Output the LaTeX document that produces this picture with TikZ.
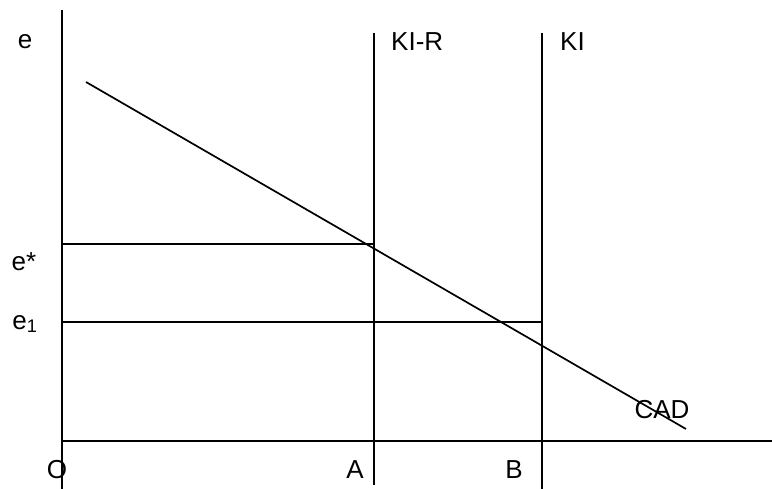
\documentclass[tikz,border=0pt]{standalone}
\usepackage{fontspec}
\setmainfont{Liberation Sans}
\begin{document}
\begin{tikzpicture}[x=1pt,y=-1pt,
  ln/.style={line width=1.7pt,black},
  lbl/.style={font=\fontsize{26}{30}\selectfont,inner sep=0pt}]
\useasboundingbox (0,0) rectangle (772,489);
% axes
\coordinate (ytop) at (62,10);
\coordinate (ybot) at (62,489);
\coordinate (xl) at (62,441);
\coordinate (xr) at (772,441);
\draw[ln] (ytop) -- (ybot);
\draw[ln] (xl) -- (xr);
% vertical lines
\coordinate (krt) at (374,33);
\coordinate (krb) at (374,485);
\coordinate (kit) at (542,33);
\coordinate (kib) at (542,489);
\draw[ln] (krt) -- (krb);
\draw[ln] (kit) -- (kib);
% horizontal lines
\coordinate (es0) at (62,244);
\coordinate (es1) at (374,244);
\coordinate (e10) at (62,322);
\coordinate (e11) at (542,322);
\draw[ln] (es0) -- (es1);
\draw[ln] (e10) -- (e11);
% CAD line
\coordinate (cad0) at (86,82);
\coordinate (cad1) at (686,429);
\draw[ln] (cad0) -- (cad1);
% labels
\node[lbl] (le) at (25,42) {e};
\node[lbl,anchor=west] (lkir) at (391,42) {KI-R};
\node[lbl,anchor=west] (lki) at (560,42) {KI};
\node[lbl] (lestar) at (24,262) {e*};
\node[lbl] (le1) at (25,324) {e\textsubscript{1}};
\node[lbl] (lcad) at (662,410) {CAD};
\node[lbl] (lo) at (57,470) {O};
\node[lbl] (la) at (355,470) {A};
\node[lbl] (lb) at (514,470) {B};
\end{tikzpicture}
\end{document}
